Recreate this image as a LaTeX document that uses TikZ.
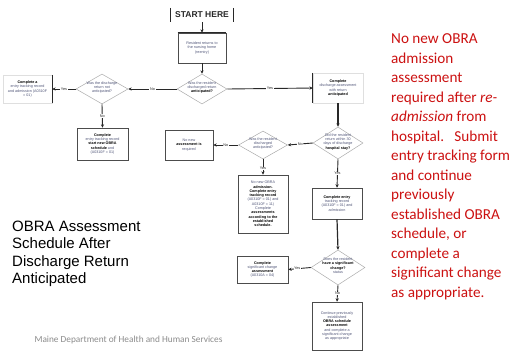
\documentclass[tikz,border=0pt]{standalone}
\usepackage{fontspec}
\setmainfont{Carlito}
\newfontfamily\arialf{Liberation Sans}
\usetikzlibrary{shapes.geometric,arrows.meta}

\definecolor{notered}{RGB}{204,18,18}
\definecolor{flowline}{RGB}{40,40,40}
\definecolor{flowtext}{RGB}{80,85,120}
\definecolor{footgray}{RGB}{140,140,140}

% bold emphasis inside the small flowchart texts
\newcommand\strongpart[1]{\textcolor{black}{\bfseries #1}}
% diamond captions are set in a box of no size, so the diamond keeps its given size
\newcommand\decisiontext[1]{\makebox[0pt]{\smash{\begin{tabular}{@{}c@{}}#1\end{tabular}}}}

\tikzset{
  smalltxt/.style={font=\arialf\fontsize{3.7}{4.3}\selectfont, text=flowtext, align=center},
  stepbox/.style={smalltxt, draw=gray!60!black, line width=0.6pt, fill=white, inner sep=0.6pt},
  openbox/.style={smalltxt, draw=gray!25, line width=0.4pt, fill=white, inner sep=0.6pt},
  decision/.style={smalltxt, diamond, draw=gray!65, line width=0.5pt, fill=white, inner sep=0pt},
  flow/.style={draw=flowline, line width=0.9pt, -{Stealth[length=3.4pt,width=3.2pt]}},
  edgebar/.style={draw=flowline, line width=0.9pt},
  lbl/.style={font=\arialf\fontsize{3.8}{4.2}\selectfont, text=flowline, fill=white, inner sep=0.6pt},
}

\begin{document}
\begin{tikzpicture}[x=1pt,y=-1pt]
  \useasboundingbox (0,0) rectangle (521,360);
  \fill[white] (0,0) rectangle (521,360);

  % ---- flowchart ----
  \node[font=\arialf\bfseries\fontsize{8.5}{9}\selectfont, text=flowline,
        minimum width=62pt, minimum height=14pt, inner sep=0pt] (start) at (202,15) {START HERE};
  \draw[edgebar, line width=0.7pt] (start.north west) -- (start.south west);
  \draw[edgebar, line width=0.7pt] (start.north east) -- (start.south east);

  \node[stepbox, minimum width=48pt, minimum height=30pt] (reentry) at (202,48)
    {Resident returns to\\ the nursing home\\ (reentry)};
  \draw[edgebar, line width=1.2pt] (reentry.north west) -- (reentry.north east);

  \node[decision, minimum width=50pt, minimum height=30pt] (dA) at (202,89)
    {\decisiontext{Was the resident\\ discharged return\\ \strongpart{anticipated?}}};

  \node[decision, minimum width=52pt, minimum height=30pt] (dB) at (102,89)
    {\decisiontext{Was the discharge\\ return not\\ anticipated?}};

  \node[openbox, minimum width=49pt, minimum height=28pt] (farleft) at (27.5,89)
    {\strongpart{Complete a}\\ entry tracking record\\ and admission (A0310F\\ = 01)};
  \draw[edgebar] (farleft.north east) -- (farleft.south east);

  \node[stepbox, minimum width=51pt, minimum height=32pt] (newsched) at (102.5,144)
    {\strongpart{Complete}\\ entry tracking record\\ \strongpart{start new OBRA}\\ \strongpart{schedule} and\\ (A0310F = 01)};

  \node[openbox, minimum width=50pt, minimum height=30pt] (disch) at (338,88)
    {\strongpart{Complete}\\ discharge assessment\\ with return\\ \strongpart{anticipated}};
  \draw[edgebar] (disch.north west) -- (disch.south west);

  \node[decision, minimum width=50pt, minimum height=32pt] (dC) at (338,143)
    {\decisiontext{Did the resident\\ return within 30\\ days of discharge\\ \strongpart{hospital stay?}}};

  \node[decision, minimum width=49pt, minimum height=28pt] (dD) at (263,145)
    {\decisiontext{Was the resident\\ discharged\\ anticipated?}};

  \node[stepbox, minimum width=48pt, minimum height=30pt] (nonew) at (189,145)
    {No new\\ \strongpart{assessment is}\\ required};

  \node[stepbox, minimum width=50pt, minimum height=58pt] (noadm) at (263,204)
    {No new OBRA\\ \strongpart{admission.}\\ \strongpart{Complete entry}\\ \strongpart{tracking record}\\ (A0310F = 01) and\\ A0310F = 11)\\ Complete\\ \strongpart{assessments}\\ \strongpart{according to the}\\ \strongpart{established}\\ \strongpart{schedule.}};

  \node[stepbox, minimum width=50pt, minimum height=31pt] (entry) at (337,203.5)
    {\strongpart{Complete entry}\\ tracking record\\ (A0310F = 01) and\\ admission};

  \node[decision, minimum width=54pt, minimum height=35pt] (dE) at (338,267.5)
    {\decisiontext{Does the resident\\ \strongpart{have a significant}\\ \strongpart{change?}\\ status}};

  \node[stepbox, minimum width=51pt, minimum height=27pt] (sigchg) at (262.5,269.5)
    {\strongpart{Complete}\\ significant change\\ \strongpart{assessment}\\ (A0310A = 04)};

  \node[stepbox, minimum width=50pt, minimum height=48pt] (cont) at (337,326)
    {Continue previously\\ established\\ \strongpart{OBRA schedule}\\ \strongpart{assessment}\\ and complete a\\ significant change\\ as appropriate};

  % ---- connectors ----
  \draw[flow] (start) -- (reentry);
  \draw[flow] (reentry) -- (dA);
  \draw[flow] (dA.west) -- node[lbl]{No} (dB.east);
  \draw[flow] (dA.east) -- node[lbl]{Yes} (disch.west);
  \draw[flow] (dB.west) -- node[lbl]{Yes} (farleft.east);
  \draw[flow] (dB.south) -- node[lbl]{No} (newsched.north);
  \draw[flow, line width=1.2pt] (disch.south) -- (dC.north);
  \draw[flow] (dC.west) -- node[lbl]{No} (dD.east);
  \draw[flow] (dC.south) -- node[lbl]{Yes} (entry.north);
  \draw[flow] (dD.west) -- node[lbl]{No} (nonew.east);
  \draw[flow] (dD.south) -- node[lbl, pos=0.6]{Yes} (noadm.north);
  \draw[flow, line width=1.2pt] (entry.south) -- (dE.north);
  \draw[flow] (dE.west) -- node[lbl, pos=0.6]{Yes} (sigchg.east);
  \draw[flow] (dE.south) -- node[lbl]{No} (cont.north);

  % ---- slide texts ----
  \node[anchor=north west, inner sep=0pt, align=left, text=black,
        font=\arialf\fontsize{15}{17.5}\selectfont] (title) at (12,220.5)
    {OBRA Assessment\\ Schedule After\\ Discharge Return\\ Anticipated};

  \node[anchor=north west, inner sep=0pt, align=left, text=notered,
        font=\fontsize{15.2}{19.5}\selectfont] (note) at (391,33.5)
    {No new OBRA\\ admission\\ assessment\\ required after \textit{re-}\\ \textit{admission} from\\ hospital.\ \ \ Submit\\ entry tracking form\\ and continue\\ previously\\ established OBRA\\ schedule, or\\ complete a\\ significant change\\ as appropriate.};

  \node[anchor=center, inner sep=0pt, text=footgray,
        font=\fontsize{9.3}{11}\selectfont] (footer) at (128.5,340)
    {Maine Department of Health and Human Services};
\end{tikzpicture}
\end{document}
